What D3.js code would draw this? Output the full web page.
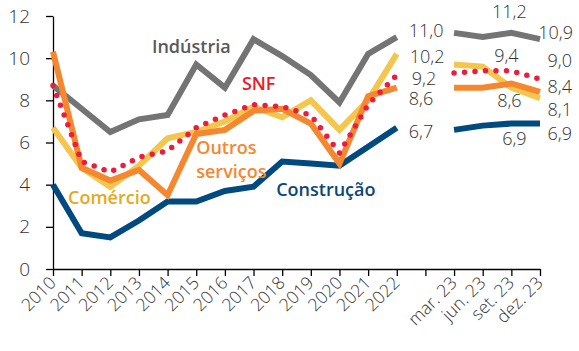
<!DOCTYPE html>
<html lang="pt">
<head>
<meta charset="UTF-8">
<title>Chart</title>
<script src="https://d3js.org/d3.v7.min.js"></script>
<style>
  body { margin: 0; background: #fff; }
  svg { font-family: "Open Sans", sans-serif; }
</style>
</head>
<body>
<div id="chart"></div>
<script>
// categories
var years = ["2010","2011","2012","2013","2014","2015","2016","2017","2018","2019","2020","2021","2022"];
var quarters = ["mar. 23","jun. 23","set. 23","dez. 23"];
var categories = years.concat([" "], quarters);
var yTicks = [0, 2, 4, 6, 8, 10, 12];

// annual series
var industria = [8.7, 7.6, 6.5, 7.1, 7.3, 9.7, 8.6, 10.9, 10.1, 9.2, 7.9, 10.2, 11.0];
var snf       = [8.7, 5.1, 4.6, 5.3, 5.6, 6.7, 7.3, 7.8, 7.7, 7.3, 5.5, 7.8, 9.2];
var outros    = [10.3, 4.8, 4.2, 4.7, 3.5, 6.4, 6.6, 7.5, 7.6, 6.9, 5.0, 8.2, 8.6];
var comercio  = [6.7, 4.8, 3.9, 4.9, 6.2, 6.5, 7.0, 7.7, 7.2, 8.0, 6.6, 8.0, 10.2];
var construcao= [4.0, 1.7, 1.5, 2.3, 3.2, 3.2, 3.7, 3.9, 5.1, 5.0, 4.9, 5.8, 6.7];

// quarterly series (2023)
var industriaQ = [11.2, 11.0, 11.2, 10.9];
var snfQ       = [9.3, 9.4, 9.4, 9.0];
var outrosQ    = [8.6, 8.6, 8.8, 8.4];
var comercioQ  = [9.7, 9.6, 8.6, 8.1];
var construcaoQ= [6.6, 6.8, 6.9, 6.9];

var width = 579, height = 351;

var svg = d3.select("#chart").append("svg")
    .attr("width", width)
    .attr("height", height);

var x = d3.scalePoint().domain(categories).range([53, 540]);
var y = d3.scaleLinear().domain([0, 12]).range([269, 16]);

// axes
var yAxis = svg.append("g")
    .attr("transform", "translate(53,0)")
    .call(d3.axisLeft(y).tickValues(yTicks).tickSize(7).tickPadding(16).tickSizeOuter(0));
yAxis.select(".domain").attr("stroke", "#000").attr("stroke-width", 1.3);
yAxis.selectAll(".tick line").attr("stroke", "#000").attr("stroke-width", 1.3);
yAxis.selectAll("text").attr("font-size", 19).attr("font-weight", 300)
    .attr("fill", "#333").attr("font-family", "Open Sans");

var xAxis = svg.append("g")
    .attr("transform", "translate(0,269)")
    .call(d3.axisBottom(x).tickSize(7).tickSizeOuter(0).tickFormat(""));
xAxis.select(".domain").attr("stroke", "#000").attr("stroke-width", 1.3);
xAxis.selectAll(".tick line").attr("stroke", "#000").attr("stroke-width", 1.3);

svg.append("g").selectAll("text")
    .data(categories.filter(function(c) { return c.trim() !== ""; }))
    .enter()
    .append("text")
    .attr("transform", function(d) { return "translate(" + (x(d) + 4) + ",284) rotate(-45)"; })
    .attr("text-anchor", "end")
    .attr("font-size", 17.5)
    .attr("font-weight", 300)
    .attr("fill", "#333")
    .text(function(d) { return d; });

// lines
var line = d3.line()
    .x(function(d) { return x(d[0]); })
    .y(function(d) { return y(d[1]); });

var series = [
    { annual: industria,  q: industriaQ,  color: "#747474", dotted: false },
    { annual: construcao, q: construcaoQ, color: "#004a80", dotted: false },
    { annual: comercio,   q: comercioQ,   color: "#f4c64e", dotted: false },
    { annual: outros,     q: outrosQ,     color: "#f5882f", dotted: false },
    { annual: snf,        q: snfQ,        color: "#ec1c3d", dotted: true }
];

series.forEach(function(s) {
    [d3.zip(years, s.annual), d3.zip(quarters, s.q)].forEach(function(pts) {
        var p = svg.append("path")
            .attr("d", line(pts))
            .attr("fill", "none")
            .attr("stroke", s.color)
            .attr("stroke-linejoin", "miter");
        if (s.dotted) {
            p.attr("stroke-width", 5.5)
             .attr("stroke-linecap", "round")
             .attr("stroke-dasharray", "0 10.5");
        } else {
            p.attr("stroke-width", 6);
        }
    });
});

// series names
var names = [
    { lines: ["Indústria"], cat: "2013", dx: 13, val: 10.24, color: "#595959" },
    { lines: ["SNF"], cat: "2016", dx: 17, val: 8.48, color: "#ec1c24" },
    { lines: ["Outros", "serviços"], cat: "2015", dx: 0, val: 5.45, color: "#f5882f" },
    { lines: ["Comércio"], cat: "2010", dx: 15, val: 3.07, color: "#e6a91a" },
    { lines: ["Construção"], cat: "2018", dx: -6, val: 3.46, color: "#0b4677" }
];
names.forEach(function(n) {
    var t = svg.append("text")
        .attr("x", x(n.cat) + n.dx)
        .attr("y", y(n.val))
        .attr("font-size", 18)
        .attr("font-weight", 600)
        .attr("fill", n.color);
    n.lines.forEach(function(l, i) {
        t.append("tspan")
            .attr("x", x(n.cat) + n.dx)
            .attr("dy", i === 0 ? 0 : 24)
            .text(l);
    });
});

// value labels
var fmt = function(v) { return d3.format(".1f")(v).replace(".", ","); };
var valueLabels = [
    { cat: "2022", v: industria[12], dx: 12, dy: 0, anchor: "start" },
    { cat: "2022", v: comercio[12], dx: 13, dy: 9.3, anchor: "start" },
    { cat: "2022", v: snf[12], dx: 15, dy: 10, anchor: "start" },
    { cat: "2022", v: outros[12], dx: 12, dy: 17.3, anchor: "start" },
    { cat: "2022", v: construcao[12], dx: 12, dy: 10.6, anchor: "start" },
    { cat: "set. 23", v: industriaQ[2], dx: -2, dy: -14.6, anchor: "middle" },
    { cat: "set. 23", v: snfQ[2], dx: -5, dy: -9, anchor: "middle" },
    { cat: "set. 23", v: comercioQ[2], dx: -2, dy: 19, anchor: "middle" },
    { cat: "set. 23", v: construcaoQ[2], dx: 3, dy: 21.5, anchor: "middle" },
    { cat: "dez. 23", v: industriaQ[3], dx: 33, dy: 0, anchor: "end" },
    { cat: "dez. 23", v: snfQ[3], dx: 32, dy: -12.5, anchor: "end" },
    { cat: "dez. 23", v: outrosQ[3], dx: 32, dy: 1.4, anchor: "end" },
    { cat: "dez. 23", v: comercioQ[3], dx: 32, dy: 17.8, anchor: "end" },
    { cat: "dez. 23", v: construcaoQ[3], dx: 32, dy: 16.5, anchor: "end" }
];
svg.append("g").selectAll("text")
    .data(valueLabels)
    .enter()
    .append("text")
    .attr("x", function(d) { return x(d.cat) + d.dx; })
    .attr("y", function(d) { return y(d.v) + d.dy; })
    .attr("text-anchor", function(d) { return d.anchor; })
    .attr("font-size", 18)
    .attr("font-weight", 300)
    .attr("fill", "#333")
    .text(function(d) { return fmt(d.v); });
</script>
</body>
</html>
